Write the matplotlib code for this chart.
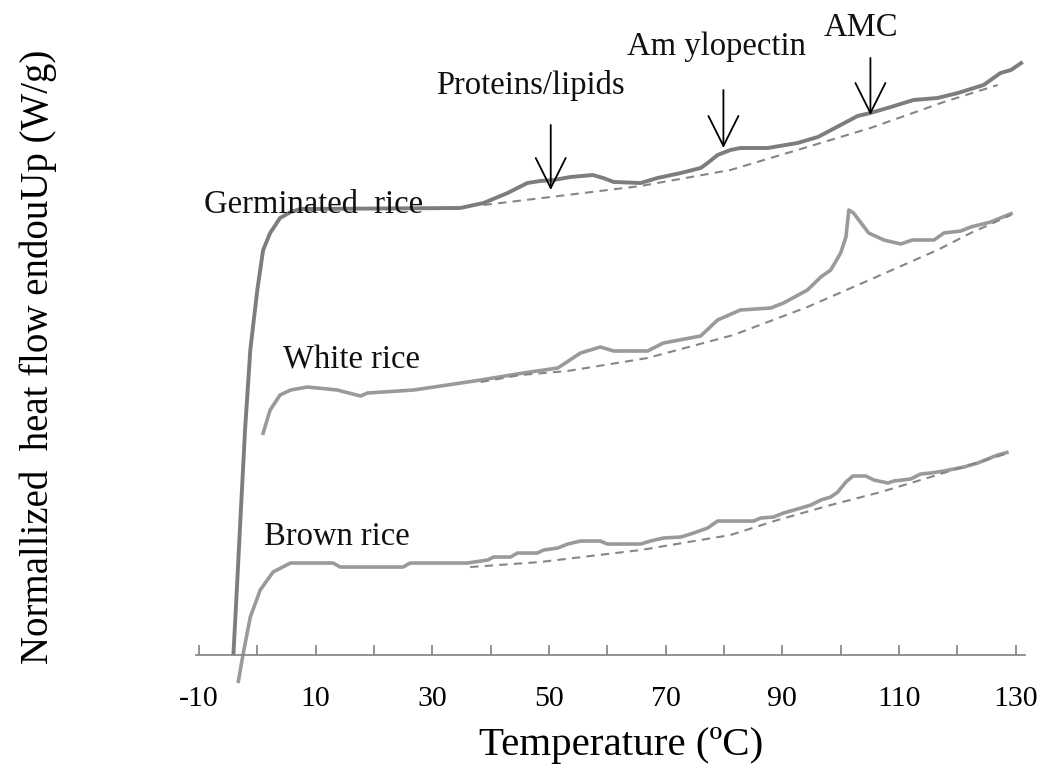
import matplotlib
matplotlib.use("Agg")
import matplotlib.pyplot as plt
import numpy as np

plt.rcParams['font.family'] = ['Liberation Serif', 'DejaVu Serif']
plt.rcParams['axes.unicode_minus'] = False

# germinated rice DSC trace
germ_t = [-4.1, -3.6, -2.9, -2.1, -1.2, 0.0, 1.0, 2.2, 3.9, 5.7, 7.4, 34.8, 38.8, 42.9,
          46.3, 48.5, 50.8, 53.7, 57.5, 59.3, 61.1, 65.7, 68.6, 72.6, 76.0, 77.2, 78.9,
          81.1, 82.8, 87.5, 92.6, 96.1, 100.0, 102.9, 105.1, 108.6, 112.5, 116.6, 120.1,
          124.5, 127.4, 129.2, 131.2]
germ_h = [0.0, 5.5, 13.5, 22.5, 30.5, 36.5, 40.5, 42.2, 43.7, 44.3, 44.6, 44.7, 45.2, 46.2,
          47.2, 47.4, 47.5, 47.8, 48.0, 47.7, 47.3, 47.2, 47.7, 48.2, 48.7, 49.2, 50.0,
          50.5, 50.7, 50.7, 51.2, 51.8, 53.0, 53.9, 54.2, 54.8, 55.5, 55.7, 56.2,
          57.0, 58.2, 58.5, 59.3]
germ_base_t = [38.8, 50.3, 65.7, 81.1, 92.6, 105.1, 117.7, 126.9]
germ_base_h = [45.0, 45.8, 46.9, 48.5, 50.5, 52.7, 55.3, 57.0]

# white rice
white_t = [0.9, 2.2, 3.9, 5.7, 8.6, 13.7, 17.7, 18.9, 26.8, 32.6, 38.3, 45.6, 51.5, 55.4,
           58.8, 61.1, 66.9, 69.6, 76.0, 78.9, 82.8, 88.0, 90.2, 94.3, 96.6, 98.3, 100.0,
           100.9, 101.4, 102.2, 104.8, 107.4, 110.3, 112.3, 116.0, 117.7, 120.6, 122.3,
           125.7, 129.5]
white_h = [22.0, 24.5, 26.0, 26.5, 26.8, 26.5, 25.9, 26.2, 26.5, 27.0, 27.5, 28.2, 28.7, 30.2,
           30.8, 30.4, 30.4, 31.2, 31.9, 33.5, 34.5, 34.7, 35.2, 36.5, 37.8, 38.5, 40.2,
           41.8, 44.5, 44.2, 42.2, 41.5, 41.1, 41.5, 41.5, 42.2, 42.4, 42.8,
           43.3, 44.2]
white_base_t = [38.3, 45.1, 53.2, 66.9, 81.6, 94.3, 105.7, 116.6, 122.3, 129.2]
white_base_h = [27.3, 28.0, 28.4, 29.7, 32.0, 34.8, 37.7, 40.5, 42.2, 44.0]

# brown rice
brown_t = [-3.3, -2.4, -1.2, 0.5, 2.7, 5.7, 13.0, 14.2, 25.0, 26.2, 36.0, 39.5, 40.5, 43.4,
           44.6, 48.0, 49.1, 51.5, 53.2, 55.4, 58.8, 60.0, 65.7, 67.4, 69.6, 72.6, 74.8,
           77.2, 78.9, 85.1, 86.3, 88.5, 90.2, 92.6, 94.9, 96.6, 98.3, 99.5, 100.9, 102.1,
           104.3, 105.7, 108.1, 109.1, 112.0, 113.7, 115.4, 117.7, 121.1, 123.5, 126.9, 128.8]
brown_h = [-2.8, 0.2, 3.8, 6.5, 8.3, 9.2, 9.2, 8.8, 8.8, 9.2, 9.2, 9.5, 9.8, 9.8,
           10.2, 10.2, 10.5, 10.7, 11.1, 11.4, 11.4, 11.1, 11.1, 11.4, 11.7, 11.8, 12.2,
           12.7, 13.4, 13.4, 13.7, 13.8, 14.2, 14.6, 15.0, 15.5, 15.8, 16.3, 17.3, 17.9,
           17.9, 17.5, 17.2, 17.4, 17.6, 18.1, 18.2, 18.4, 18.8, 19.2, 20.0, 20.3]
brown_base_t = [36.5, 48.5, 65.7, 81.1, 89.2, 98.3, 106.9, 115.4, 128.8]
brown_base_h = [8.8, 9.3, 10.5, 12.0, 13.5, 15.0, 16.3, 17.8, 20.2]

labels = ["Germinated  rice", "White rice", "Brown rice"]
label_pos = [(9.6, 45.0), (16.1, 29.5), (13.6, 11.8)]

peaks = ["Proteins/lipids", "Am ylopectin", "AMC"]
peak_text_pos = [(46.8, 56.9), (78.7, 60.8), (103.4, 62.7)]
peak_arrow_t = [50.3, 79.9, 105.1]
peak_arrow_from = [53.0, 56.5, 59.7]
peak_arrow_to = [46.5, 50.7, 54.0]

fig = plt.figure(figsize=(10.54, 7.74), dpi=100)
ax = fig.add_axes([0.186, 0.0891, 0.7865, 0.8657])

ax.plot(germ_t, germ_h, color='#7d7d7d', lw=2.8, clip_on=False, solid_capstyle='butt')
ax.plot(white_t, white_h, color='#9a9a9a', lw=2.6, clip_on=False, solid_capstyle='butt')
ax.plot(brown_t, brown_h, color='#9a9a9a', lw=2.6, clip_on=False, solid_capstyle='butt')
for bt, bh in [(germ_base_t, germ_base_h), (white_base_t, white_base_h), (brown_base_t, brown_base_h)]:
    ax.plot(bt, bh, color='#868686', lw=1.5, dashes=(4, 3), clip_on=False)

for lab, (tx, ty) in zip(labels, label_pos):
    ax.text(tx, ty, lab, fontsize=23.5, ha='center', va='center', color='#111111')

for lab, (tx, ty), at, a0, a1 in zip(peaks, peak_text_pos, peak_arrow_t, peak_arrow_from, peak_arrow_to):
    ax.text(tx, ty, lab, fontsize=23.5, ha='center', va='center', color='#111111')
    ax.annotate('', xy=(at, a1), xytext=(at, a0),
                arrowprops=dict(arrowstyle='->, head_length=0.9, head_width=0.45',
                                color='black', lw=1.3, shrinkA=0, shrinkB=0,
                                mutation_scale=24))

ax.set_xlim(-10.5, 131.6)
ax.set_ylim(-5, 62)

for side in ['top', 'right', 'left']:
    ax.spines[side].set_visible(False)
ax.spines['bottom'].set_position(('data', 0))
ax.spines['bottom'].set_color('#808080')
ax.spines['bottom'].set_linewidth(1.2)

ax.set_xticks(np.arange(-10, 131, 20))
ax.set_xticks(np.arange(0, 131, 20), minor=True)
ax.tick_params(axis='x', which='both', direction='in', length=7, width=1.2,
               color='#808080', labelsize=21.5, pad=22)
ax.set_yticks([])

ax.set_xlabel("Temperature (ºC)", fontsize=29.5)
ax.xaxis.set_label_coords(0.513, -0.06)
ax.xaxis.label.set_va('center')
ax.set_ylabel("Normallized  heat flow endouUp (W/g)", fontsize=28)
ax.yaxis.set_label_coords(-0.19, 0.519)
ax.yaxis.label.set_va('center')

plt.savefig("out.png", dpi=100)
